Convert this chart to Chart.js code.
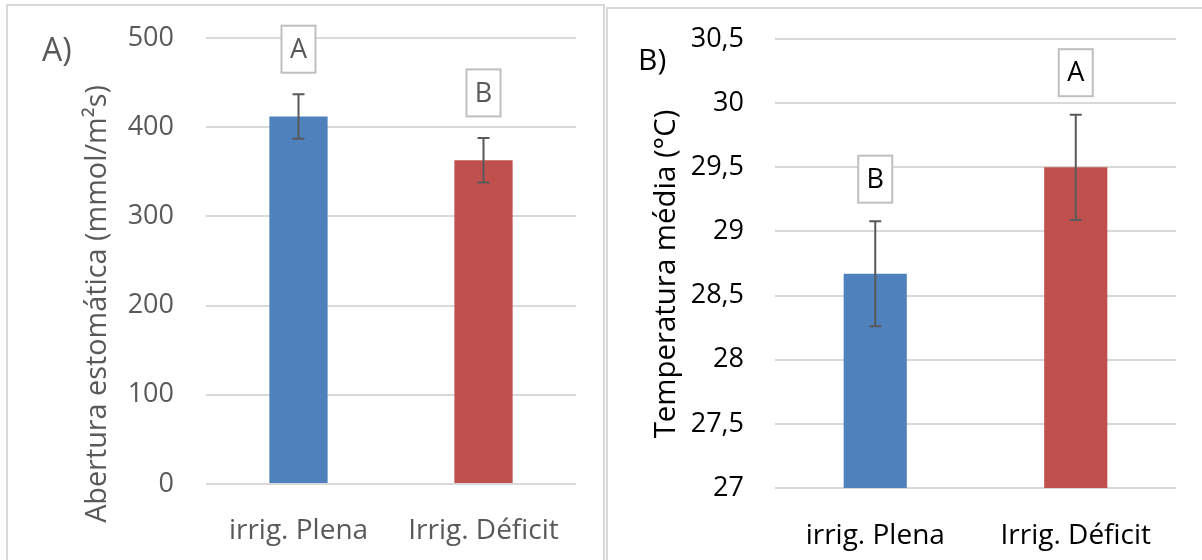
<!DOCTYPE html>
<html lang="pt">
<head>
<meta charset="utf-8">
<title>Abertura estomática e temperatura média</title>
<script src="https://cdn.jsdelivr.net/npm/chart.js@4.4.1/dist/chart.umd.min.js"></script>
<style>
  html, body { margin: 0; padding: 0; background: #ffffff; overflow: hidden; }
  body { width: 1202px; height: 560px; position: relative; }
  .painel { position: absolute; box-sizing: border-box; border: 2px solid #d9d9d9; background: #ffffff; }
  #painelA { left: 6px; top: 4px; width: 599px; height: 600px; }
  #painelB { left: 606px; top: 7px; width: 620px; height: 600px; }
  canvas { position: absolute; top: 0; }
  #graficoA { left: 0; }
  #graficoB { left: 606px; }
</style>
</head>
<body>
<div class="painel" id="painelA"></div>
<div class="painel" id="painelB"></div>
<canvas id="graficoA" width="605" height="560"></canvas>
<canvas id="graficoB" width="596" height="560"></canvas>
<script>
// Tratamentos de irrigação
const categorias = ['irrig. Plena', 'Irrig. Déficit'];

// A) Abertura estomática (mmol/m²s): média, erro e letras de significância
const aberturaMedia = [412, 363];
const aberturaErro = [25, 25];
const aberturaLetras = ['A', 'B'];

// B) Temperatura média (°C): média, erro e letras de significância
const temperaturaMedia = [28.67, 29.5];
const temperaturaErro = [0.41, 0.41];
const temperaturaLetras = ['B', 'A'];

// Eixos Y
const aberturaEixo = { min: 0, max: 500, passo: 100 };
const temperaturaEixo = { min: 27, max: 30.5, passo: 0.5 };

const coresBarras = ['#4F81BD', '#C0504D'];
const FONTE = "'Open Sans', sans-serif";

Chart.defaults.font.family = FONTE;
Chart.defaults.devicePixelRatio = 1;

// Barras de erro e letras em caixas acima de cada barra
const errosELetras = {
  id: 'errosELetras',
  afterDatasetsDraw(chart, args, opts) {
    const ctx = chart.ctx;
    const ds = chart.data.datasets[0];
    const meta = chart.getDatasetMeta(0);
    const y = chart.scales.y;
    ctx.save();
    meta.data.forEach((barra, i) => {
      const v = ds.data[i], e = ds.erros[i];
      const yTopo = y.getPixelForValue(v + e);
      const yBase = y.getPixelForValue(v - e);
      const x = barra.x;
      ctx.strokeStyle = '#595959';
      ctx.lineWidth = 2;
      ctx.beginPath();
      ctx.moveTo(x, yTopo); ctx.lineTo(x, yBase);
      ctx.moveTo(x - 6, yTopo); ctx.lineTo(x + 6, yTopo);
      ctx.moveTo(x - 6, yBase); ctx.lineTo(x + 6, yBase);
      ctx.stroke();

      // caixa com a letra
      const cy = yTopo - opts.distancia;
      const w = 34, h = 47;
      ctx.fillStyle = '#ffffff';
      ctx.fillRect(x - w / 2, cy - h / 2, w, h);
      ctx.strokeStyle = '#bfbfbf';
      ctx.lineWidth = 2;
      ctx.strokeRect(x - w / 2, cy - h / 2, w, h);
      ctx.fillStyle = opts.cor;
      ctx.font = opts.tamanho + 'px ' + FONTE;
      ctx.textAlign = 'center';
      ctx.textBaseline = 'middle';
      ctx.fillText(ds.letras[i], x, cy + 1);
    });
    ctx.restore();
  }
};

// Título do eixo Y e rótulo do painel
const titulos = {
  id: 'titulos',
  afterDraw(chart, args, opts) {
    const ctx = chart.ctx;
    ctx.save();
    ctx.fillStyle = opts.cor;
    ctx.font = opts.tamanhoEixo + 'px ' + FONTE;
    ctx.textAlign = 'center';
    ctx.textBaseline = 'middle';
    ctx.translate(opts.eixoX, opts.eixoY);
    ctx.rotate(-Math.PI / 2);
    ctx.fillText(opts.eixo, 0, 0);
    ctx.restore();

    ctx.save();
    ctx.fillStyle = opts.cor;
    ctx.font = opts.tamanhoPainel + 'px ' + FONTE;
    ctx.textAlign = 'left';
    ctx.textBaseline = 'alphabetic';
    ctx.fillText(opts.painel, opts.painelX, opts.painelY);
    ctx.restore();
  }
};

function formatoVirgula(v) {
  return String(v).replace('.', ',');
}

function criarGrafico(id, cfg) {
  return new Chart(document.getElementById(id), {
    type: 'bar',
    data: {
      labels: categorias,
      datasets: [{
        data: cfg.media,
        erros: cfg.erro,
        letras: cfg.letras,
        backgroundColor: coresBarras,
        borderWidth: 0,
        categoryPercentage: 1,
        barPercentage: 0.315
      }]
    },
    options: {
      responsive: false,
      animation: false,
      events: [],
      layout: { padding: { top: cfg.topo, right: cfg.direita, left: 0, bottom: 0 } },
      plugins: {
        legend: { display: false },
        tooltip: { enabled: false },
        errosELetras: { distancia: cfg.distancia, cor: cfg.cor, tamanho: 27 },
        titulos: cfg.titulos
      },
      scales: {
        x: {
          grid: { display: false },
          border: { display: false },
          ticks: { color: cfg.cor, font: { size: 28 }, padding: cfg.padX, maxRotation: 0 },
          afterFit: s => { s.height = cfg.alturaX; }
        },
        y: {
          min: cfg.eixo.min,
          max: cfg.eixo.max,
          grid: {
            color: '#d9d9d9', lineWidth: 2,
            drawTicks: true, tickLength: cfg.padY, tickColor: 'rgba(0,0,0,0)'
          },
          border: { display: false },
          ticks: {
            stepSize: cfg.eixo.passo,
            color: cfg.cor,
            font: { size: 27 },
            padding: 0,
            callback: v => formatoVirgula(v)
          },
          afterFit: s => { s.width = cfg.larguraY; }
        }
      }
    },
    plugins: [errosELetras, titulos]
  });
}

criarGrafico('graficoA', {
  media: aberturaMedia, erro: aberturaErro, letras: aberturaLetras,
  eixo: aberturaEixo, cor: '#595959',
  topo: 38, direita: 29, larguraY: 206, alturaX: 76, padX: 22, padY: 32,
  distancia: 45,
  titulos: {
    eixo: 'Abertura estomática (mmol/m²s)', eixoX: 98, eixoY: 304, tamanhoEixo: 28.8,
    painel: 'A)', painelX: 42, painelY: 61, tamanhoPainel: 32, cor: '#595959'
  }
});

criarGrafico('graficoB', {
  media: temperaturaMedia, erro: temperaturaErro, letras: temperaturaLetras,
  eixo: temperaturaEixo, cor: '#000000',
  topo: 39, direita: 26, larguraY: 169, alturaX: 72, padX: 23, padY: 31,
  distancia: 42,
  titulos: {
    eixo: 'Temperatura média (°C)', eixoX: 61, eixoY: 274, tamanhoEixo: 29.4,
    painel: 'B)', painelX: 32, painelY: 70, tamanhoPainel: 30, cor: '#000000'
  }
});
</script>
</body>
</html>
